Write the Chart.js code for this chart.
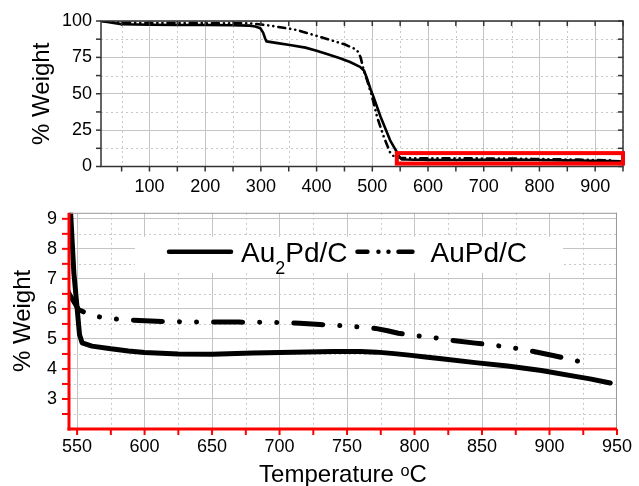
<!DOCTYPE html>
<html>
<head>
<meta charset="utf-8">
<script src="https://cdn.jsdelivr.net/npm/chart.js@4.4.1/dist/chart.umd.min.js"></script>
<style>
  body { margin: 0; background: #fff; }
  #wrap { position: relative; width: 639px; height: 486px; }
  canvas { position: absolute; left: 0; }
  #full { top: 0; }
  #zoom { top: 190px; }
</style>
</head>
<body>
<div id="wrap">
  <canvas id="full" width="639" height="200"></canvas>
  <canvas id="zoom" width="639" height="296"></canvas>
</div>
<script>
// TGA curves (temperature in C, % weight)
const seriesNames = ['Au₂Pd/C', 'AuPd/C'];

const tempAu2Pd = [13, 30, 50, 100, 150, 200, 250, 280, 290, 299, 304, 307.7, 310, 330, 352, 380, 400, 420, 442, 460,
  478, 485, 490, 497, 502, 515, 532, 540, 545.2, 547.6, 550, 551.8, 553.7, 561, 575, 588, 600, 625, 650, 680,
  710, 740, 760, 772, 785, 796, 808, 820, 845, 869, 894, 918, 930, 945];
const weightAu2Pd = [100, 99, 97.8, 97.4, 97.3, 97.2, 97.1, 96.8, 96.2, 95, 92, 88, 86, 84.8, 83.5, 81.7, 79.6, 77.2, 74.4, 71.8,
  68.5, 66, 61, 53, 48, 34, 18, 12.6, 9.2, 7.2, 6.03, 5.14, 4.87, 4.76, 4.67, 4.6, 4.55, 4.5, 4.49, 4.53,
  4.56, 4.58, 4.58, 4.56, 4.51, 4.46, 4.4, 4.34, 4.21, 4.1, 3.95, 3.76, 3.67, 3.53];

const tempAuPd = [13, 50, 100, 200, 281, 317, 365, 420, 450, 469, 474, 479, 484.5, 490.5, 499.5, 508.5, 520.5, 532, 538, 544,
  547.6, 551.2, 561, 573, 588, 613, 640, 670, 696, 715, 730, 750, 771, 780, 788, 799, 815, 823, 845, 857,
  869, 884, 903.5, 916, 930];
const weightAuPd = [100, 98.8, 98.6, 98.5, 98.4, 96.8, 93.8, 87.5, 84, 80.8, 79, 75, 66.3, 59.5, 48, 34.2, 20.5, 9.6, 7.2, 6.51,
  6.24, 5.97, 5.78, 5.68, 5.63, 5.58, 5.56, 5.56, 5.55, 5.52, 5.48, 5.43, 5.35, 5.27, 5.19, 5.12, 5.04, 4.98, 4.86, 4.8,
  4.73, 4.62, 4.44, 4.31, 4.17];

// axis ranges and ticks
const fullX = [13, 950];
const fullY = [0, 100];
const fullXTicks = [100, 200, 300, 400, 500, 600, 700, 800, 900];
const fullXMinor = [50, 150, 250, 350, 450, 550, 650, 750, 850, 950];
const fullYTicks = [0, 25, 50, 75, 100];
const fullYMinor = [12.5, 37.5, 62.5, 87.5];

const zoomX = [544, 950];
const zoomY = [2, 9.2];
const zoomXTicks = [550, 600, 650, 700, 750, 800, 850, 900, 950];
const zoomXMinor = [575, 625, 675, 725, 775, 825, 875, 925];
const zoomYTicks = [3, 4, 5, 6, 7, 8, 9];
const zoomYMinor = [2.5, 3.5, 4.5, 5.5, 6.5, 7.5, 8.5];

const FONT = '"Liberation Sans", Arial, sans-serif';

function toPoints(temps, weights, lo) {
  const pts = [];
  temps.forEach((t, i) => { if (t >= lo) pts.push({ x: t, y: weights[i] }); });
  return pts;
}

function line(ctx, x1, y1, x2, y2) {
  ctx.beginPath(); ctx.moveTo(x1, y1); ctx.lineTo(x2, y2); ctx.stroke();
}

// dotted minor grid, drawn under the curves
function minorGrid(xs, ys) {
  return {
    id: 'minorGrid',
    beforeDatasetsDraw(chart) {
      const { ctx, chartArea: a, scales: { x, y } } = chart;
      ctx.save();
      ctx.strokeStyle = '#c8c8c8';
      ctx.lineWidth = 1;
      ctx.setLineDash([2, 3]);
      xs.forEach(v => { const p = Math.round(x.getPixelForValue(v)) + 0.5; line(ctx, p, a.top, p, a.bottom); });
      ys.forEach(v => { const p = Math.round(y.getPixelForValue(v)) + 0.5; line(ctx, a.left, p, a.right, p); });
      ctx.restore();
    }
  };
}

// frame, ticks and the red zoom box of the top chart
const fullFrame = {
  id: 'fullFrame',
  afterDatasetsDraw(chart) {
    const { ctx, chartArea: a, scales: { x, y } } = chart;
    ctx.save();
    ctx.strokeStyle = '#333';
    ctx.lineWidth = 1.5;
    ctx.strokeRect(a.left, a.top, a.right - a.left, a.bottom - a.top);
    fullXTicks.concat(fullXMinor).forEach(v => {
      const p = x.getPixelForValue(v);
      line(ctx, p, a.bottom, p, a.bottom + 5);
      line(ctx, p, a.top, p, a.top + 5);
    });
    fullYTicks.concat(fullYMinor).forEach(v => {
      const p = y.getPixelForValue(v);
      line(ctx, a.left - 5, p, a.left, p);
      line(ctx, a.right - 5, p, a.right, p);
    });
    // region shown in the lower chart
    const x1 = x.getPixelForValue(zoomX[0]), x2 = x.getPixelForValue(zoomX[1]);
    const y1 = y.getPixelForValue(zoomY[1]), y2 = y.getPixelForValue(zoomY[0]);
    ctx.strokeStyle = '#ff0000';
    ctx.lineWidth = 4;
    ctx.strokeRect(x1, y1, x2 - x1, y2 - y1);
    ctx.restore();
  }
};

// text with a subscript 2
function drawLabel(ctx, text, x, y, size) {
  let cx = x;
  text.split(/(₂)/).forEach(part => {
    if (!part) return;
    if (part === '₂') {
      ctx.font = (size * 0.64) + 'px ' + FONT;
      ctx.fillText('2', cx, y + size * 0.44);
      cx += ctx.measureText('2').width;
    } else {
      ctx.font = size + 'px ' + FONT;
      ctx.fillText(part, cx, y);
      cx += ctx.measureText(part).width;
    }
  });
  return cx - x;
}

// red axes, grey frame and legend of the lower chart
const zoomFrame = {
  id: 'zoomFrame',
  afterDatasetsDraw(chart) {
    const { ctx, chartArea: a, scales: { x, y } } = chart;
    ctx.save();
    ctx.strokeStyle = '#999';
    ctx.lineWidth = 1;
    line(ctx, a.left, a.top + 0.5, a.right, a.top + 0.5);
    line(ctx, a.right - 0.5, a.top, a.right - 0.5, a.bottom);
    ctx.strokeStyle = '#ff0000';
    ctx.lineWidth = 2;
    zoomYTicks.concat(zoomYMinor).forEach(v => {
      const p = y.getPixelForValue(v);
      line(ctx, a.left - 7, p, a.left, p);
    });
    zoomXTicks.concat(zoomXMinor).forEach(v => {
      const p = x.getPixelForValue(v);
      line(ctx, p, a.bottom, p, a.bottom + 6);
    });
    ctx.lineWidth = 3;
    line(ctx, a.left, a.top, a.left, a.bottom + 1.5);
    line(ctx, a.left - 1.5, a.bottom, a.right, a.bottom);

    // legend
    const top = a.top + 24, h = 36;
    ctx.fillStyle = '#fff';
    ctx.fillRect(a.left + 66, top, 428, h);
    const ly = a.top + 39, ty = a.top + 49;
    ctx.fillStyle = '#000';
    ctx.strokeStyle = '#000';
    ctx.lineWidth = 4.5;
    ctx.lineCap = 'round';
    let cx = a.left + 100;
    line(ctx, cx, ly, cx + 62, ly);
    cx += 72;
    ctx.textBaseline = 'alphabetic';
    cx += drawLabel(ctx, chart.data.datasets[0].label, cx, ty, 28) + 10;
    ctx.setLineDash([10, 11, 0.01, 10, 0.01, 10, 14, 200]);
    line(ctx, cx, ly, cx + 57, ly);
    ctx.setLineDash([]);
    cx += 73;
    drawLabel(ctx, chart.data.datasets[1].label, cx, ty, 28);
    ctx.restore();
  }
};

const tickFont = { family: FONT, size: 18 };
const titleFont = { family: FONT, size: 24 };

// --- top: full temperature range ---
new Chart(document.getElementById('full'), {
  type: 'line',
  data: {
    datasets: [
      { label: seriesNames[0], data: toPoints(tempAu2Pd, weightAu2Pd, fullX[0]), borderColor: '#000', borderWidth: 2.6,
        pointRadius: 0, borderCapStyle: 'round', borderJoinStyle: 'round', tension: 0 },
      { label: seriesNames[1], data: toPoints(tempAuPd, weightAuPd, fullX[0]), borderColor: '#000', borderWidth: 2.6,
        borderDash: [7, 5, 0.1, 5, 0.1, 5], pointRadius: 0, borderCapStyle: 'round', borderJoinStyle: 'round', tension: 0 }
    ]
  },
  options: {
    responsive: false,
    animation: false,
    layout: { padding: { top: 21, right: 16, left: 0, bottom: 0 } },
    plugins: { legend: { display: false }, tooltip: { enabled: false } },
    scales: {
      x: {
        type: 'linear', min: fullX[0], max: fullX[1],
        afterBuildTicks: s => { s.ticks = fullXTicks.map(v => ({ value: v })); },
        afterFit: s => { s.height = 33.5; },
        grid: { color: '#c4c4c4', drawTicks: false },
        border: { display: false },
        ticks: { color: '#000', padding: 10, font: tickFont, maxRotation: 0, autoSkip: false }
      },
      y: {
        type: 'linear', min: fullY[0], max: fullY[1],
        afterBuildTicks: s => { s.ticks = fullYTicks.map(v => ({ value: v })); },
        afterFit: s => { s.width = 101; },
        grid: { color: '#c4c4c4', drawTicks: false },
        border: { display: false },
        ticks: { color: '#000', padding: 9, font: tickFont, autoSkip: false },
        title: { display: true, text: '% Weight', color: '#000', font: titleFont, padding: { top: 28, bottom: 0 } }
      }
    }
  },
  plugins: [minorGrid(fullXMinor, fullYMinor), fullFrame]
});

// --- bottom: residue region ---
new Chart(document.getElementById('zoom'), {
  type: 'line',
  data: {
    datasets: [
      { label: seriesNames[0], data: toPoints(tempAu2Pd, weightAu2Pd, 538), borderColor: '#000', borderWidth: 5,
        pointRadius: 0, borderCapStyle: 'round', borderJoinStyle: 'round', tension: 0 },
      { label: seriesNames[1], data: toPoints(tempAuPd, weightAuPd, 538), borderColor: '#000', borderWidth: 5,
        borderDash: [29, 17, 0.1, 17, 0.1, 17], borderDashOffset: 63, pointRadius: 0,
        borderCapStyle: 'round', borderJoinStyle: 'round', tension: 0 }
    ]
  },
  options: {
    responsive: false,
    animation: false,
    layout: { padding: { top: 16, right: 16, left: 0, bottom: 0 } },
    plugins: { legend: { display: false }, tooltip: { enabled: false } },
    scales: {
      x: {
        type: 'linear', min: zoomX[0], max: zoomX[1],
        afterBuildTicks: s => { s.ticks = zoomXTicks.map(v => ({ value: v })); },
        afterFit: s => { s.height = 57; },
        grid: { color: '#c4c4c4', drawTicks: false },
        border: { display: false },
        ticks: { color: '#000', padding: 7, font: tickFont, maxRotation: 0, autoSkip: false },
        title: { display: true, text: 'Temperature ᵒC', color: '#000', font: { family: FONT, size: 24, lineHeight: 0.85 }, padding: 0 }
      },
      y: {
        type: 'linear', min: zoomY[0], max: zoomY[1],
        afterBuildTicks: s => { s.ticks = zoomYTicks.map(v => ({ value: v })); },
        afterFit: s => { s.width = 69; },
        grid: { color: '#c4c4c4', drawTicks: false },
        border: { display: false },
        ticks: { color: '#000', padding: 12, font: tickFont, autoSkip: false },
        title: { display: true, text: '% Weight', color: '#000', font: titleFont, padding: { top: 9, bottom: 0 } }
      }
    }
  },
  plugins: [minorGrid(zoomXMinor, zoomYMinor), zoomFrame]
});
</script>
</body>
</html>
